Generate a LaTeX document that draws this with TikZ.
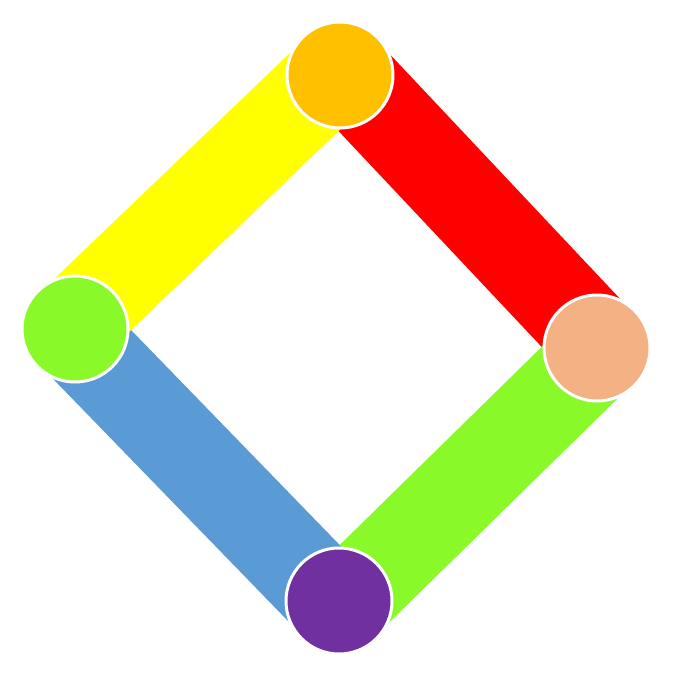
\documentclass[tikz,border=0pt]{standalone}
\usetikzlibrary{calc}
\definecolor{cyellow}{HTML}{FFFF00}
\definecolor{cred}{HTML}{FF0000}
\definecolor{clime}{HTML}{8AF92A}
\definecolor{cblue}{HTML}{5B9BD5}
\definecolor{corange}{HTML}{FFC000}
\definecolor{cpeach}{HTML}{F4B183}
\definecolor{cpurple}{HTML}{7030A0}
\tikzset{
  bar/.style={line width=90pt, line cap=butt},
  dot/.style={circle, draw=white, line width=3pt, minimum size=106pt, inner sep=0pt}
}
\begin{document}
\begin{tikzpicture}[x=1pt,y=-1pt]
\useasboundingbox (0,0) rectangle (679,679);
\coordinate (o) at (340,75);
\coordinate (p) at (597,348);
\coordinate (v) at (339,601);
\coordinate (g) at (75,329);
\draw[bar, cred] ($(o)!5.5pt!90:(p)$) -- ($(p)!5.5pt!-90:(o)$);
\draw[bar, clime] ($(p)!5.5pt!90:(v)$) -- ($(v)!5.5pt!-90:(p)$);
\draw[bar, cblue] ($(v)!5.5pt!90:(g)$) -- ($(g)!5.5pt!-90:(v)$);
\draw[bar, cyellow] ($(g)!5.5pt!90:(o)$) -- ($(o)!5.5pt!-90:(g)$);
\node[dot, fill=corange] (no) at (o) {};
\node[dot, fill=cpeach] (np) at (p) {};
\node[dot, fill=cpurple] (nv) at (v) {};
\node[dot, fill=clime] (ng) at (g) {};
\end{tikzpicture}
\end{document}
